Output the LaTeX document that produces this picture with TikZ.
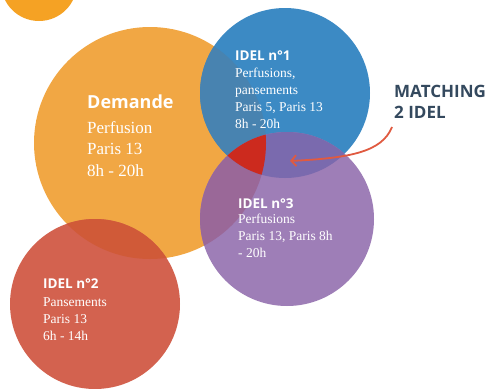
\documentclass[tikz,border=0pt]{standalone}
\usepackage{fontspec}
\setmainfont{Liberation Serif}
\newfontfamily\headfont{Open Sans}
\usetikzlibrary{arrows.meta}

\definecolor{blobjaune}{HTML}{F5A224}
\definecolor{demorange}{HTML}{F1A744}
\definecolor{idelbleu}{HTML}{3C8AC4}
\definecolor{idelrouge}{HTML}{D3624F}
\definecolor{idelviolet}{HTML}{9E7EB7}
\definecolor{orbleu}{HTML}{4883B0}
\definecolor{orviolet}{HTML}{9A6898}
\definecolor{orrouge}{HTML}{D05A38}
\definecolor{bleuviolet}{HTML}{7A6AAE}
\definecolor{matchrouge}{HTML}{CC2A1E}
\definecolor{matchtexte}{HTML}{34495E}
\definecolor{fleche}{HTML}{E05A40}

\tikzset{
  bulle/.style={circle, inner sep=0pt, minimum size=#1},
  titre/.style={text=white, inner sep=0pt, anchor=base west, font=\headfont\bfseries\fontsize{13.5}{16}\selectfont},
  texte/.style={text=white, inner sep=0pt, anchor=base west, align=left, font=\fontsize{13.5}{16.8}\selectfont},
}

\begin{document}
\begin{tikzpicture}[x=1pt,y=-1pt]
\useasboundingbox (0,0) rectangle (492,388);
% bulles
\fill[blobjaune] (39,-17) circle (38pt);
\node[bulle=232pt, fill=demorange] (dem) at (150,143) {};
\node[bulle=170pt, fill=idelrouge] (idel2) at (95,304) {};
\node[bulle=170pt, fill=idelbleu] (idel1) at (285,93) {};
\node[bulle=174pt, fill=idelviolet] (idel3) at (287,219) {};
% recouvrements
\begin{scope}
  \clip (150,143) circle (116pt);
  \fill[orrouge] (95,304) circle (85pt);
  \fill[orbleu] (285,93) circle (85pt);
  \fill[orviolet] (287,219) circle (87pt);
\end{scope}
\begin{scope}
  \clip (285,93) circle (85pt);
  \fill[bleuviolet] (287,219) circle (87pt);
  \clip (150,143) circle (116pt);
  \fill[matchrouge] (287,219) circle (87pt);
\end{scope}
% textes (base = derniere ligne)
\node[titre, font=\headfont\bfseries\fontsize{18}{22}\selectfont] (demtitre) at (87,108) {Demande};
\node[texte, font=\fontsize{17}{21.5}\selectfont] (demtexte) at (87,176) {Perfusion\\Paris 13\\8h - 20h};
\node[titre] (idel1titre) at (235,60) {IDEL n°1};
\node[texte] (idel1texte) at (235,128) {Perfusions,\\pansements\\Paris 5, Paris 13\\8h - 20h};
\node[titre] (idel3titre) at (238,208) {IDEL n°3};
\node[texte] (idel3texte) at (238,257.5) {Perfusions\\Paris 13, Paris 8h\\- 20h};
\node[titre] (idel2titre) at (43,288) {IDEL n°2};
\node[texte] (idel2texte) at (43,340) {Pansements\\Paris 13\\6h - 14h};
\node[inner sep=0pt, anchor=base west, align=left, text=matchtexte, font=\headfont\bfseries\fontsize{17}{21}\selectfont] (match) at (394,118) {MATCHING\\2 IDEL};
% fleche
\coordinate (depart) at (392,127);
\coordinate (cible) at (290,161);
\draw[fleche, line width=1.8pt, -{Straight Barb[length=5pt,width=11pt]}] (depart) .. controls (382,152) and (350,158) .. (cible);
\end{tikzpicture}
\end{document}
